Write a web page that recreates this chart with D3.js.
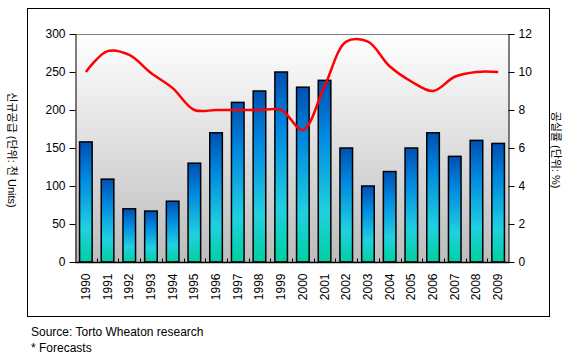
<!DOCTYPE html>
<html>
<head>
<meta charset="utf-8">
<script src="https://cdn.jsdelivr.net/npm/d3@7/dist/d3.min.js"></script>
<style>
	body { margin: 0; background: #fff; }
	svg { display: block; font-family: Arial, "Liberation Sans", "Noto Sans CJK KR", sans-serif; }
	.axis path, .axis line { stroke: #000; }
	.axis text { font-size: 12px; fill: #000; }
</style>
</head>
<body>
<svg id="chart" width="579" height="361"></svg>
<script>
	// years on the x axis
	var years = ["1990","1991","1992","1993","1994","1995","1996","1997","1998","1999",
		"2000","2001","2002","2003","2004","2005","2006","2007","2008","2009"];

	// new supply (thousand units) - bars
	var supply = [158, 109, 70, 67, 80, 130, 170, 210, 225, 250,
		230, 239, 150, 100, 119, 150, 170, 139, 160, 156];

	// vacancy rate (%) - red line
	var vacancy = [10.0, 11.1, 10.9, 9.95, 9.15, 8.0, 8.0, 8.0, 8.0, 8.0,
		6.95, 9.25, 11.6, 11.6, 10.3, 9.5, 9.0, 9.75, 10.0, 10.0];

	var leftTicks = [0, 50, 100, 150, 200, 250, 300];
	var rightTicks = [0, 2, 4, 6, 8, 10, 12];

	var leftTitle = "신규공급 (단위: 천 Units)";
	var rightTitle = "공실률 (단위: %)";
	var notes = ["Source: Torto Wheaton research", "* Forecasts"];

	/***** Layout *****/
	const plot = { left: 75, right: 509, top: 34, bottom: 262 };

	var svg = d3.select("#chart");
	var defs = svg.append("defs");

	// plot background gradient
	var bg = defs.append("linearGradient").attr("id", "bg")
		.attr("x1", 0).attr("y1", 0).attr("x2", 0).attr("y2", 1);
	bg.append("stop").attr("offset", "0%").attr("stop-color", "#ffffff");
	bg.append("stop").attr("offset", "100%").attr("stop-color", "#bcbcbc");

	// bar gradient
	var bg2 = defs.append("linearGradient").attr("id", "barfill")
		.attr("x1", 0).attr("y1", 0).attr("x2", 0).attr("y2", 1);
	[["0%", "#0050b0"], ["30%", "#0088e0"], ["72%", "#20d0e0"], ["100%", "#00d0a0"]].forEach(function (s) {
		bg2.append("stop").attr("offset", s[0]).attr("stop-color", s[1]);
	});

	// outer frame
	svg.append("rect")
		.attr("x", 27.5).attr("y", 8.5).attr("width", 522).attr("height", 308)
		.attr("fill", "none").attr("stroke", "#000");

	/***** Scales *****/
	var x = d3.scaleBand().domain(years).range([plot.left, plot.right]).paddingInner(0.42).paddingOuter(0.21);
	var band = d3.scaleBand().domain(years).range([plot.left, plot.right]);
	var yL = d3.scaleLinear().domain([0, 300]).range([plot.bottom, plot.top]);
	var yR = d3.scaleLinear().domain([0, 12]).range([plot.bottom, plot.top]);

	// background
	svg.append("rect")
		.attr("x", plot.left).attr("y", plot.top)
		.attr("width", plot.right - plot.left).attr("height", plot.bottom - plot.top)
		.attr("fill", "url(#bg)");
	svg.append("line")
		.attr("x1", plot.left).attr("x2", plot.right)
		.attr("y1", plot.top + 0.5).attr("y2", plot.top + 0.5)
		.attr("stroke", "#808080");

	// bars
	svg.append("g").selectAll("rect")
		.data(supply)
		.join("rect")
		.attr("x", function (d, i) { return x(years[i]); })
		.attr("y", function (d) { return yL(d); })
		.attr("width", x.bandwidth())
		.attr("height", function (d) { return yL(0) - yL(d); })
		.attr("fill", "url(#barfill)")
		.attr("stroke", "#000")
		.attr("stroke-width", 1.5);

	// line
	var line = d3.line()
		.x(function (d, i) { return band(years[i]) + band.bandwidth() / 2; })
		.y(function (d) { return yR(d); })
		.curve(d3.curveCatmullRom.alpha(0.5));
	svg.append("path")
		.datum(vacancy)
		.attr("d", line)
		.attr("fill", "none")
		.attr("stroke", "#ff0000")
		.attr("stroke-width", 2.5);

	/***** Axes *****/
	var axL = svg.append("g").attr("class", "axis")
		.attr("transform", "translate(" + (plot.left + 0.5) + ",0)")
		.call(d3.axisLeft(yL).tickValues(leftTicks).tickSize(6).tickPadding(4).tickSizeOuter(0));

	var axR = svg.append("g").attr("class", "axis")
		.attr("transform", "translate(" + (plot.right - 0.5) + ",0)")
		.call(d3.axisRight(yR).tickValues(rightTicks).tickSize(6).tickPadding(4).tickSizeOuter(0));

	// bottom axis with inward ticks between bars
	var axB = svg.append("g").attr("class", "axis")
		.attr("transform", "translate(0," + (plot.bottom + 0.5) + ")");
	axB.append("line")
		.attr("x1", plot.left).attr("x2", plot.right + 0.5)
		.attr("stroke", "#000").attr("stroke-width", 1.5);
	axB.selectAll("line.tk")
		.data(years.slice(1))
		.join("line").attr("class", "tk")
		.attr("x1", function (d) { return Math.round(band(d)) + 0.5; })
		.attr("x2", function (d) { return Math.round(band(d)) + 0.5; })
		.attr("y1", 0).attr("y2", -4)
		.attr("stroke", "#000");
	axB.selectAll("text")
		.data(years)
		.join("text")
		.attr("transform", function (d) {
			return "translate(" + (band(d) + band.bandwidth() / 2 + 4) + ",11) rotate(-90)";
		})
		.attr("text-anchor", "end")
		.text(function (d) { return d; });

	/***** Titles *****/
	svg.append("text")
		.attr("transform", "translate(8,150) rotate(90)")
		.attr("text-anchor", "middle")
		.attr("font-size", 11)
		.text(leftTitle);
	svg.append("text")
		.attr("transform", "translate(552,150) rotate(90)")
		.attr("text-anchor", "middle")
		.attr("font-size", 11)
		.text(rightTitle);

	svg.append("g").selectAll("text")
		.data(notes)
		.join("text")
		.attr("x", 31)
		.attr("y", function (d, i) { return 336 + i * 16; })
		.attr("font-size", 12)
		.text(function (d) { return d; });
</script>
</body>
</html>
